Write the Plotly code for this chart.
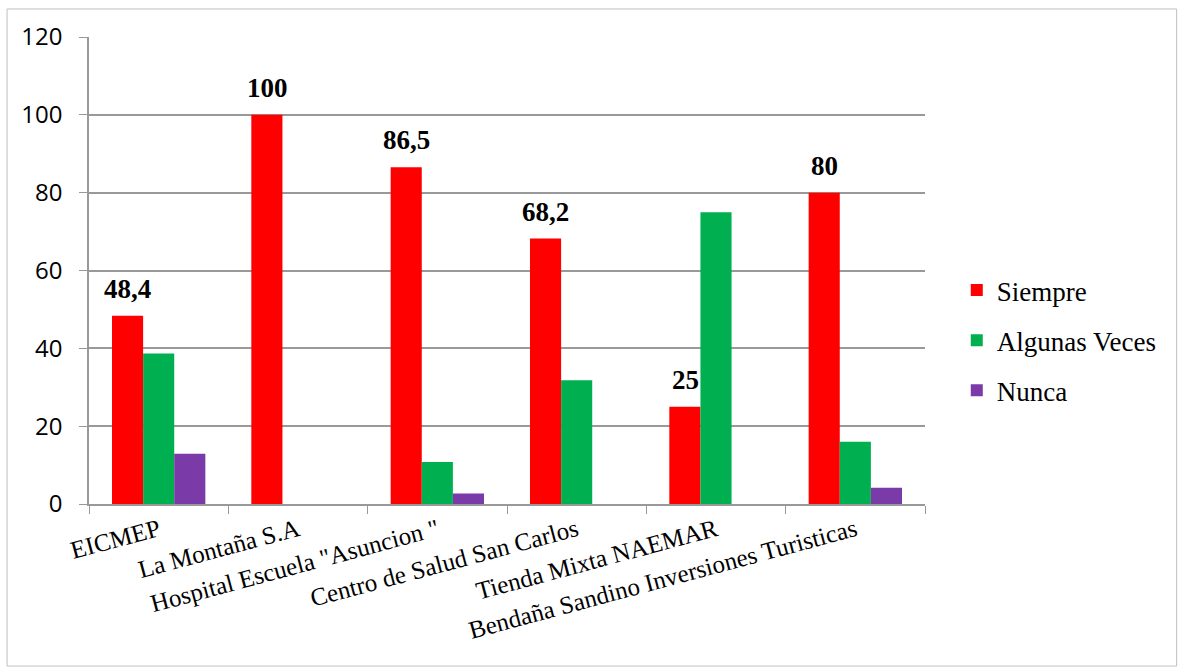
import plotly.graph_objects as go

categories = ["EICMEP", "La Montaña S.A", "Hospital Escuela \"Asuncion \"",
              "Centro de Salud San Carlos", "Tienda Mixta NAEMAR",
              "Bendaña Sandino Inversiones Turisticas"]
siempre = [48.4, 100, 86.5, 68.2, 25, 80]
algunas = [38.7, 0, 10.8, 31.8, 75, 16]
nunca = [12.9, 0, 2.7, 0, 0, 4.2]
y_ticks = [0, 20, 40, 60, 80, 100, 120]

def fmt(v):
    return ("%g" % v).replace(".", ",")

SERIF = "Liberation Serif, Times New Roman, serif"

fig = go.Figure()
fig.add_trace(go.Bar(name="Siempre", x=categories, y=siempre, marker_color="#FF0000",
                     marker_line_width=0, legendgroup="a"))
fig.add_trace(go.Bar(name="Algunas Veces", x=categories, y=algunas, marker_color="#00B050",
                     marker_line_width=0, legendgroup="b"))
fig.add_trace(go.Bar(name="Nunca", x=categories, y=nunca, marker_color="#7A3AA8",
                     marker_line_width=0, legendgroup="c"))

# data labels above the Siempre bars (first bar of each group)
for c, v in zip(categories, siempre):
    fig.add_annotation(x=c, y=v, text="<b>" + fmt(v) + "</b>", showarrow=False,
                       xref="x", yref="y", yanchor="bottom", xshift=-31, yshift=10,
                       font=dict(family=SERIF, size=27, color="black"))

grid = "#999999"
fig.update_layout(
    width=1180, height=670,
    font=dict(family=SERIF, color="black"),
    margin=dict(l=89, r=255, t=37, b=166),
    paper_bgcolor="white", plot_bgcolor="white",
    barmode="group", bargap=0.33, bargroupgap=0,
    showlegend=True,
    legend=dict(x=1.038, y=0.35, xanchor="left", yanchor="middle",
                font=dict(family=SERIF, size=27, color="black", weight="normal"),
                traceorder="grouped", tracegroupgap=12, itemwidth=30,
                bgcolor="rgba(0,0,0,0)"),
    xaxis=dict(tickangle=-15, tickson="boundaries", ticks="outside", ticklen=8,
               tickcolor=grid, showline=True, linecolor=grid, linewidth=1.5,
               showgrid=False,
               tickfont=dict(family=SERIF, size=25, color="black"),
               ticklabelstandoff=0),
    yaxis=dict(range=[0, 120], tickvals=y_ticks, ticks="outside", ticklen=8,
               tickcolor=grid, showline=True, linecolor=grid, linewidth=1.5,
               showgrid=True, gridcolor=grid, gridwidth=1.5, zeroline=False,
               tickfont=dict(family="Open Sans", size=24, color="black"),
               ticklabelstandoff=12),
    shapes=[dict(type="rect", xref="paper", yref="paper",
                 x0=-0.098, x1=1.301, y0=-0.347, y1=1.06,
                 line=dict(color="#bfbfbf", width=1), fillcolor="rgba(0,0,0,0)",
                 layer="below")],
)

fig.write_html("out.html")
